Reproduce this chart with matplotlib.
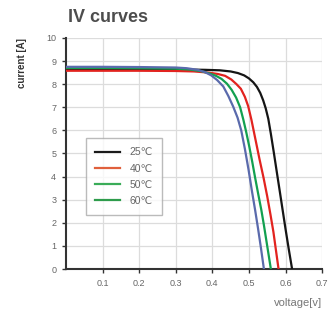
import matplotlib
matplotlib.use("Agg")
import matplotlib.pyplot as plt
from matplotlib.lines import Line2D

plt.rcParams['font.family'] = ['Liberation Sans', 'DejaVu Sans']

# IV curve points, voltage [V] / current [A]
v25 = [0, 0.1, 0.2, 0.3, 0.38, 0.42, 0.45, 0.47, 0.487, 0.50, 0.512, 0.522,
       0.531, 0.539, 0.546, 0.553, 0.560, 0.568, 0.576, 0.584, 0.592, 0.600, 0.609, 0.618]
i25 = [8.65, 8.65, 8.65, 8.64, 8.62, 8.60, 8.55, 8.48, 8.38, 8.25, 8.08, 7.88,
       7.62, 7.30, 6.95, 6.50, 5.85, 5.05, 4.22, 3.40, 2.57, 1.74, 0.85, 0]

v40 = [0, 0.1, 0.2, 0.3, 0.35, 0.39, 0.415, 0.435, 0.452, 0.466, 0.478, 0.489,
       0.498, 0.507, 0.518, 0.529, 0.540, 0.550, 0.559, 0.567, 0.574, 0.581]
i40 = [8.58, 8.58, 8.58, 8.57, 8.55, 8.50, 8.44, 8.36, 8.20, 8.00, 7.80, 7.45,
       7.05, 6.45, 5.60, 4.75, 3.95, 3.15, 2.35, 1.60, 0.80, 0]

v50 = [0, 0.1, 0.2, 0.3, 0.34, 0.37, 0.395, 0.41, 0.425, 0.44, 0.453, 0.465,
       0.476, 0.485, 0.493, 0.501, 0.509, 0.517, 0.526, 0.534, 0.541, 0.548, 0.554, 0.560]
i50 = [8.70, 8.70, 8.69, 8.67, 8.63, 8.56, 8.45, 8.36, 8.23, 8.02, 7.75, 7.42,
       7.00, 6.45, 5.90, 5.30, 4.65, 3.95, 3.20, 2.55, 1.90, 1.20, 0.60, 0]

v60 = [0, 0.1, 0.2, 0.3, 0.33, 0.36, 0.38, 0.397, 0.413, 0.43, 0.444, 0.457,
       0.469, 0.479, 0.489, 0.499, 0.508, 0.517, 0.525, 0.533, 0.541]
i60 = [8.75, 8.75, 8.74, 8.72, 8.69, 8.62, 8.52, 8.38, 8.18, 7.90, 7.48, 7.03,
       6.55, 6.00, 5.20, 4.30, 3.40, 2.55, 1.75, 0.90, 0]

labels = ['25℃', '40℃', '50℃', '60℃']
curve_colors = ['#151515', '#e2231f', '#12a050', '#5a6aac']
legend_colors = ['#1a1a1a', '#e0603c', '#3aac58', '#2e9c4c']

fig = plt.figure(figsize=(3.28, 3.11), dpi=100)
ax = fig.add_axes([0.201, 0.135, 0.781, 0.743])

for v, i, c in zip([v25, v40, v50, v60], [i25, i40, i50, i60], curve_colors):
    ax.plot(v, i, color=c, lw=1.6, solid_joinstyle='round', zorder=3)

ax.set_xlim(0, 0.7)
ax.set_ylim(0, 10)
ax.set_xticks([0.1, 0.2, 0.3, 0.4, 0.5, 0.6, 0.7])
ax.set_xticklabels(['0.1', '0.2', '0.3', '0.4', '0.5', '0.6', '0.7'])
ax.set_yticks(range(0, 11))
ax.grid(True, color='#dcdcdc', lw=0.9, zorder=0)
ax.tick_params(colors='#666666', labelsize=6.5, length=3, width=1, pad=4)
ax.tick_params(axis='both', color='#333333')
for s in ['top', 'right']:
    ax.spines[s].set_visible(False)
for s in ['left', 'bottom']:
    ax.spines[s].set_linewidth(1.5)
    ax.spines[s].set_color('#333333')

handles = [Line2D([0], [0], color=c, lw=1.6) for c in legend_colors]
leg = ax.legend(handles, labels, loc='upper left', bbox_to_anchor=(0.078, 0.567),
                borderaxespad=0, fontsize=7.5, frameon=True, fancybox=False,
                edgecolor='#aaaaaa', handlelength=2.4, handletextpad=0.9,
                labelspacing=0.6, borderpad=0.9, labelcolor='#666666')
leg.get_frame().set_linewidth(1.0)

fig.text(0.207, 0.945, 'IV curves', fontsize=13, fontweight='bold', color='#4d4d4d',
         ha='left', va='center')
fig.text(0.067, 0.878, 'current [A]', fontsize=7, fontweight='bold', color='#333333',
         rotation=90, ha='center', va='top')
fig.text(0.982, 0.026, 'voltage[v]', fontsize=8, color='#777777', ha='right', va='center')

fig.savefig('out.png', dpi=100)
